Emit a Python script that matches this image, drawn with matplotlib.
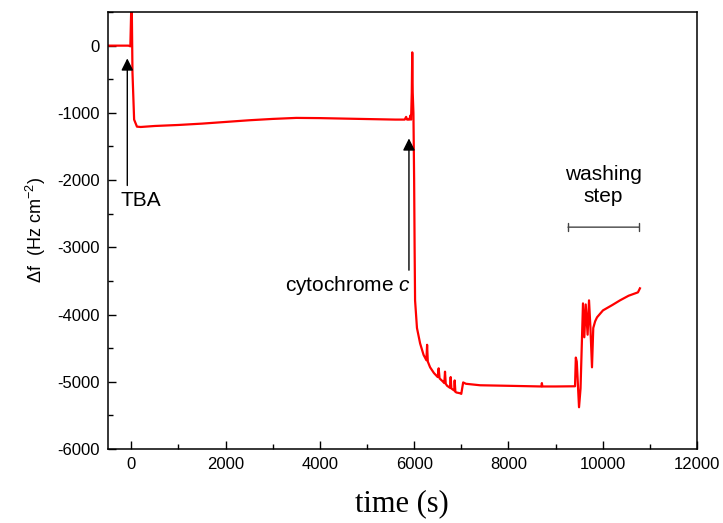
import numpy as np
import matplotlib.pyplot as plt
from matplotlib.ticker import MultipleLocator

# time (s) and frequency shift (Hz cm^-2)
t = [-500, -60, -20, 0, 10, 25, 60, 120, 200, 500, 1000, 1500, 2000, 2500,
     3000, 3500, 4000, 4500, 5000, 5600, 5800, 5830, 5850, 5870, 5900, 5920,
     5935, 5950, 5960, 5970, 5985, 6000, 6010, 6020, 6060, 6127, 6200, 6260,
     6275, 6290, 6339, 6420, 6500, 6520, 6540, 6600, 6640, 6655, 6670, 6700,
     6760, 6775, 6790, 6850, 6860, 6875, 6900, 6975, 7000, 7040, 7100, 7400,
     8000, 8700, 8710, 8720, 9000, 9413, 9430, 9450, 9498, 9530, 9582, 9610,
     9640, 9680, 9710, 9740, 9773, 9800, 9840, 9880, 10006, 10200, 10367,
     10550, 10748, 10790]
df = [0, 0, -10, 600, 600, -400, -1100, -1205, -1210, -1195, -1180, -1160,
      -1135, -1110, -1090, -1075, -1078, -1085, -1092, -1100, -1100, -1060,
      -1100, -1100, -1100, -1040, -1100, -700, -100, -700, -1000, -2000,
      -3000, -3790, -4200, -4430, -4600, -4680, -4450, -4700, -4785, -4870,
      -4930, -4800, -4950, -4990, -5020, -4850, -5030, -5060, -5090, -4930,
      -5100, -5130, -4980, -5150, -5160, -5171, -5180, -5010, -5030, -5052,
      -5060, -5070, -5020, -5070, -5070, -5067, -4640, -4700, -5379, -5100,
      -3834, -4338, -3850, -4300, -3789, -4200, -4785, -4200, -4100, -4041,
      -3938, -3860, -3789, -3720, -3670, -3610]

# annotation positions (data units)
tba_tip = (-85, -190)
tba_tail = (-85, -2080)
tba_text = (200, -2300)
cyt_tip = (5890, -1380)
cyt_tail = (5890, -3340)
cyt_text = (5930, -3570)
wash_span = (9264, 10770)
wash_y = -2700

plt.rcParams['font.family'] = ['Liberation Sans', 'DejaVu Sans']
plt.rcParams['axes.unicode_minus'] = False
plt.rcParams['mathtext.fontset'] = 'custom'
plt.rcParams['mathtext.rm'] = 'Liberation Sans'
plt.rcParams['mathtext.it'] = 'Liberation Sans:italic'

fig = plt.figure(figsize=(7.23, 5.23), dpi=100)
ax = fig.add_axes([0.149, 0.1415, 0.815, 0.8355])
ax.plot(t, df, color='#ff0000', lw=1.6)

ax.set_xlim(-500, 12000)
ax.set_ylim(-6000, 500)
ax.xaxis.set_major_locator(MultipleLocator(2000))
ax.xaxis.set_minor_locator(MultipleLocator(1000))
ax.yaxis.set_major_locator(MultipleLocator(1000))
ax.yaxis.set_minor_locator(MultipleLocator(500))
ax.tick_params(which='both', direction='in', top=False, right=False,
               labelsize=12, width=1, pad=6)
ax.tick_params(which='major', length=6)
ax.tick_params(which='minor', length=3.5)
for s in ax.spines.values():
    s.set_linewidth(1.1)

ax.set_ylabel(r'$\Delta$f  (Hz cm$^{-2}$)', fontsize=13, labelpad=6)
ax.set_xlabel('time (s)', fontsize=22, family='Liberation Serif', labelpad=12)

arrow = dict(arrowstyle='-|>', color='black', lw=1, mutation_scale=18,
             shrinkA=0, shrinkB=0)
ax.annotate('', xy=tba_tip, xytext=tba_tail, arrowprops=arrow)
ax.text(tba_text[0], tba_text[1], 'TBA', ha='center', va='center', fontsize=15)

ax.annotate('', xy=cyt_tip, xytext=cyt_tail, arrowprops=arrow)
ax.text(cyt_text[0], cyt_text[1], 'cytochrome $\\it{c}$', ha='right',
        va='center', fontsize=15)

ax.annotate('', xy=(wash_span[0], wash_y), xytext=(wash_span[1], wash_y),
            arrowprops=dict(arrowstyle='|-|', color='#444444', lw=1,
                            mutation_scale=3, shrinkA=0, shrinkB=0))
ax.text(sum(wash_span) / 2, wash_y + 320, 'washing\nstep', ha='center',
        va='bottom', fontsize=15, linespacing=1.15)

fig.savefig('out.png', dpi=100)
